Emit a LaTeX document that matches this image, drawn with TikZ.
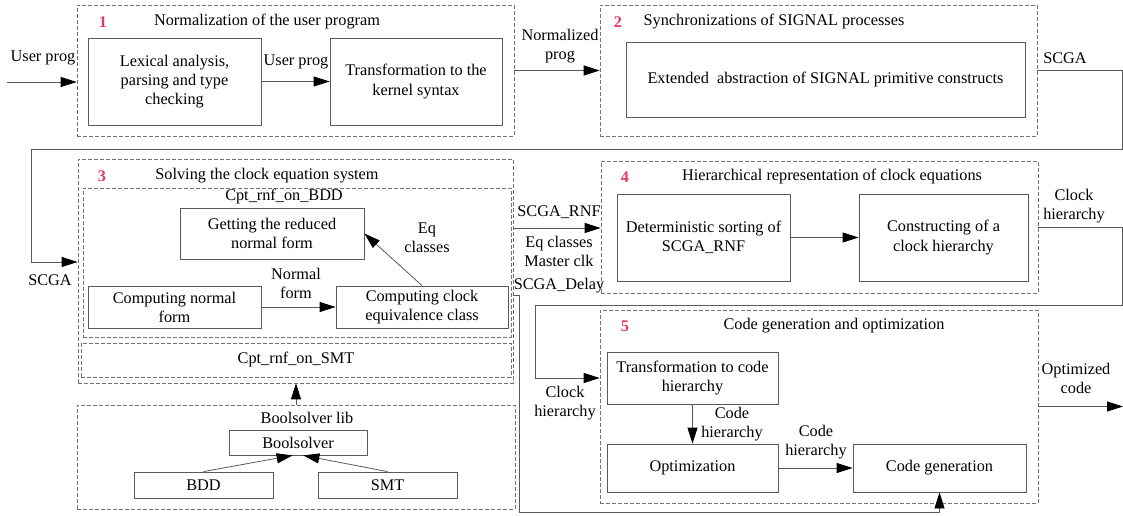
\documentclass[tikz,border=0pt]{standalone}
\usepackage{fontspec}
\setmainfont{Liberation Serif}
\usetikzlibrary{arrows.meta,fit}
\definecolor{numred}{RGB}{232,56,92}
\tikzset{
  blk/.style={draw=black!65, line width=0.6pt, inner sep=0pt},
  grp/.style={draw=black!55, line width=0.5pt, dash pattern=on 3pt off 1.5pt, inner sep=0pt},
  num/.style={text=numred, font=\fontsize{12.2}{14.3}\selectfont\bfseries},
  lbl/.style={align=center, inner sep=0pt},
  wire/.style={draw=black!65, line width=0.6pt},
  flow/.style={wire, -{Triangle[length=12pt,width=7.5pt,color=black]}},
}
\begin{document}
\begin{tikzpicture}[x=0.75pt, y=-0.75pt, font=\fontsize{12.2}{14.3}\selectfont]
\useasboundingbox (0,0) rectangle (1123,516);

\node[grp, fit={(77,5) (514,136)}] (g1) {};
\node[num] (n1) at (103,22) {1};
\node[lbl] (t1) at (267,22) {Normalization of the user program};
\node[blk, fit={(88,38) (261,125)}] (lex) {};
\node[lbl] (lex-t) at (lex) {Lexical analysis,\\parsing and type\\checking};
\node[blk, fit={(330,38) (502,125)}] (kern) {};
\node[lbl] (kern-t) at (kern) {Transformation to the\\kernel syntax};

\node[grp, fit={(600,5) (1037,136)}] (g2) {};
\node[num] (n2) at (618,22) {2};
\node[lbl] (t2) at (774,22) {Synchronizations of SIGNAL processes};
\node[blk, fit={(626,42) (1025,117)}] (abs) {};
\node[lbl] (abs-t) at (abs) {Extended\ \ abstraction of SIGNAL primitive constructs};

\node[grp, fit={(78,159) (513,383)}] (g3) {};
\node[num] (n3) at (102,176) {3};
\node[lbl] (t3) at (267,176) {Solving the clock equation system};
\node[grp, fit={(83,188) (511,337)}] (bdd) {};
\node[lbl] (bdd-t) at (284,197) {Cpt\_rnf\_on\_BDD};
\node[blk, fit={(180,208) (364,259)}] (get) {};
\node[lbl] (get-t) at (get) {Getting the reduced\\normal form};
\node[blk, fit={(88,286) (261,328)}] (nf) {};
\node[lbl] (nf-t) at (nf) {Computing normal\\form};
\node[blk, fit={(336,286) (508,328)}] (ce) {};
\node[lbl] (ce-t) at (ce) {Computing clock\\equivalence class};
\node[grp, fit={(81,343) (511,377)}] (smt) {};
\node[lbl] (smt-t) at (smt) {Cpt\_rnf\_on\_SMT};

\node[grp, fit={(601,161) (1038,293)}] (g4) {};
\node[num] (n4) at (625,177) {4};
\node[lbl] (t4) at (832,177) {Hierarchical representation of clock equations};
\node[blk, fit={(617,194) (790,281)}] (sort) {};
\node[lbl] (sort-t) at (sort) {Deterministic sorting of\\SCGA\_RNF};
\node[blk, fit={(859,194) (1028,281)}] (hier) {};
\node[lbl] (hier-t) at (hier) {Constructing of a\\clock hierarchy};

\node[grp, fit={(600,310) (1038,503)}] (g5) {};
\node[num] (n5) at (625,326) {5};
\node[lbl] (t5) at (834,326) {Code generation and optimization};
\node[blk, fit={(607,352) (778,404)}] (tr) {};
\node[lbl] (tr-t) at (tr) {Transformation to code\\hierarchy};
\node[blk, fit={(607,444) (778,492)}] (opt) {};
\node[lbl] (opt-t) at (opt) {Optimization};
\node[blk, fit={(853,444) (1026,492)}] (cg) {};
\node[lbl] (cg-t) at (cg) {Code generation};

\node[grp, fit={(77,405) (515,509)}] (lib) {};
\node[lbl] (lib-t) at (307,418) {Boolsolver lib};
\node[blk, fit={(229,430) (367,455)}] (bs) {};
\node[lbl] (bs-t) at (bs) {Boolsolver};
\node[blk, fit={(134,472) (273,498)}] (bd) {};
\node[lbl] (bd-t) at (bd) {BDD};
\node[blk, fit={(318,472) (457,498)}] (sm) {};
\node[lbl] (sm-t) at (sm) {SMT};

\coordinate (in) at (7,82);
\coordinate (r1) at (1122,149);
\coordinate (l1) at (31,262);
\coordinate (r2) at (1122,305);
\coordinate (l2) at (535,378);
\coordinate (rnf) at (513,228);
\coordinate (d1) at (519,295);
\coordinate (d2) at (519,512);
\coordinate (oc) at (1123,407);

\draw[flow] (in) -- (in -| g1.west);
\draw[flow] (lex) -- (kern);
\draw[flow] (g1) -- (g2);
\draw[flow] (g2.east) -| (r1) -| (l1) -- (l1 -| g3.west);
\draw[flow] (nf) -- (ce);
\draw[flow] (ce.north) -- (get.east);
\draw[flow] (rnf) -- (rnf -| g4.west);
\draw[flow] (d1 -| g3.east) -- (d1) -- (d2) -| (cg.south);
\draw[flow] (sort) -- (hier);
\draw[flow] (g4.east) -| (r2) -| (l2) -- (l2 -| g5.west);
\draw[flow] (tr) -- (opt);
\draw[flow] (opt) -- (cg);
\draw[flow] (g5.east) -- (g5.east -| oc);
\draw[flow] (bd.north) -- ([xshift=-4pt]bs.south);
\draw[flow] (sm.north) -- ([xshift=4pt]bs.south);
\draw[flow] (lib.north) -- (lib.north |- g3.south);

\node[lbl] (in-l) at (43,58) {User prog};
\node[lbl] (lex-l) at (296,62) {User prog};
\node[lbl] (g1-l) at (560,46) {Normalized\\prog};
\node[lbl] (g2-l) at (1065,58) {SCGA};
\node[lbl] (g3-l) at (50,280) {SCGA};
\node[lbl] (nf-l) at (296,283) {Normal\\form};
\node[lbl] (ce-l) at (427,238) {Eq\\classes};
\node[lbl] (rnf-l) at (559,212) {SCGA\_RNF};
\node[lbl] (eq-l) at (559,251) {Eq classes\\Master clk};
\node[lbl] (d-l) at (559,286) {SCGA\_Delay};
\node[lbl] (g4-l) at (1074,206) {Clock\\hierarchy};
\node[lbl] (g5-l) at (565,403) {Clock\\hierarchy};
\node[lbl] (tr-l) at (732,424) {Code\\hierarchy};
\node[lbl] (opt-l) at (816,442) {Code\\hierarchy};
\node[lbl] (oc-l) at (1076,378) {Optimized\\code};
\end{tikzpicture}
\end{document}
